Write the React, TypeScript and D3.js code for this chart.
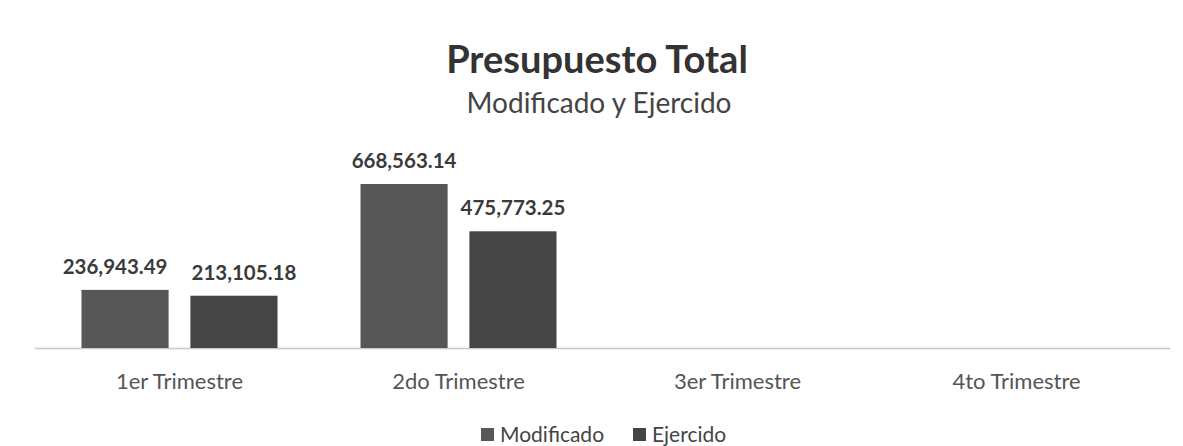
import * as React from 'react';
import * as d3 from 'd3';

const categories = ['1er Trimestre', '2do Trimestre', '3er Trimestre', '4to Trimestre'];
const seriesNames = ['Modificado', 'Ejercido'];
const modificado = [236943.49, 668563.14, null, null];
const ejercido = [213105.18, 475773.25, null, null];
const seriesColors = ['#575757', '#454545'];

const width = 1183;
const height = 446;
const font = 'Lato, "Open Sans", sans-serif';

export default function App() {
  const svgRef = React.useRef<SVGSVGElement>(null);

  React.useEffect(() => {
    if (!svgRef.current) return;
    const svg = d3.select(svgRef.current);
    svg.selectAll('*').remove();

    const baseY = 348;
    const x = d3.scaleBand().domain(categories).range([40, 1156]);
    const inner = d3.scaleBand().domain(seriesNames).range([41.5, x.bandwidth() - 41.5]).paddingInner(0.2);
    const y = d3.scaleLinear().domain([0, 668563.14]).range([baseY, 184]);

    svg.append('rect').attr('width', width).attr('height', height).attr('fill', '#ffffff');

    // title
    svg
      .append('text')
      .attr('x', 597)
      .attr('y', 73)
      .attr('text-anchor', 'middle')
      .style('font-family', font)
      .style('font-weight', 'bold')
      .style('font-size', '38px')
      .attr('fill', '#333')
      .text('Presupuesto Total');
    svg
      .append('text')
      .attr('x', 599)
      .attr('y', 113)
      .attr('text-anchor', 'middle')
      .style('font-family', font)
      .style('font-size', '28px')
      .attr('fill', '#444')
      .text('Modificado y Ejercido');

    // axis line
    svg
      .append('line')
      .attr('x1', 35)
      .attr('x2', 1170)
      .attr('y1', baseY + 0.5)
      .attr('y2', baseY + 0.5)
      .attr('stroke', '#c8c8c8')
      .attr('stroke-width', 1.5);

    const series = [modificado, ejercido];
    const labels: any[] = [];
    series.forEach((vals, si) => {
      const g = svg.append('g');
      const pts = categories
        .map((c, i) => ({ c, v: vals[i] }))
        .filter((d) => d.v != null) as { c: string; v: number }[];
      const bx = (d: any) => (x(d.c) as number) + (inner(seriesNames[si]) as number);
      g.selectAll('rect')
        .data(pts)
        .enter()
        .append('rect')
        .attr('x', bx)
        .attr('y', (d) => y(d.v))
        .attr('width', inner.bandwidth())
        .attr('height', (d) => baseY - y(d.v))
        .attr('fill', seriesColors[si]);
      g.selectAll('text')
        .data(pts)
        .enter()
        .append('text')
        .attr('x', (d) => bx(d) + inner.bandwidth() / 2)
        .attr('y', (d) => y(d.v) - 16)
        .attr('text-anchor', 'middle')
        .style('font-family', font)
        .style('font-weight', 'bold')
        .style('font-size', '20.5px')
        .attr('fill', '#3a3a3a')
        .text((d) => d3.format(',.2f')(d.v))
        .each(function (d) {
          labels.push({ node: this, c: d.c, si, cx: bx(d) + inner.bandwidth() / 2, cy: y(d.v) - 16 });
        });
    });

    // push apart labels that collide within a category
    categories.forEach((c) => {
      const pair = labels.filter((l) => l.c === c);
      if (pair.length < 2) return;
      const [a, b] = pair;
      const wa = a.node.getComputedTextLength();
      const wb = b.node.getComputedTextLength();
      const need = (wa + wb) / 2 + 24;
      const gap = b.cx - a.cx;
      if (Math.abs(a.cy - b.cy) < 22 && gap < need) {
        const shift = (need - gap) / 2;
        d3.select(a.node).attr('x', a.cx - shift);
        d3.select(b.node).attr('x', b.cx + shift);
      }
    });

    // category labels
    svg
      .append('g')
      .selectAll('text')
      .data(categories)
      .enter()
      .append('text')
      .attr('x', (d) => (x(d) as number) + x.bandwidth() / 2)
      .attr('y', 389)
      .attr('text-anchor', 'middle')
      .style('font-family', font)
      .style('font-size', '22px')
      .attr('fill', '#555')
      .text((d) => d);

    // legend
    const legendX = [481, 633];
    seriesNames.forEach((name, i) => {
      svg
        .append('rect')
        .attr('x', legendX[i])
        .attr('y', 428)
        .attr('width', 13)
        .attr('height', 13)
        .attr('fill', seriesColors[i]);
      svg
        .append('text')
        .attr('x', legendX[i] + 19)
        .attr('y', 442)
        .style('font-family', font)
        .style('font-size', '21px')
        .attr('fill', '#444')
        .text(name);
    });
  }, []);

  return (
    <div style={{ position: 'absolute', left: 0, top: 0 }}>
      <svg ref={svgRef} width={width} height={height} style={{ display: 'block' }} />
    </div>
  );
}
